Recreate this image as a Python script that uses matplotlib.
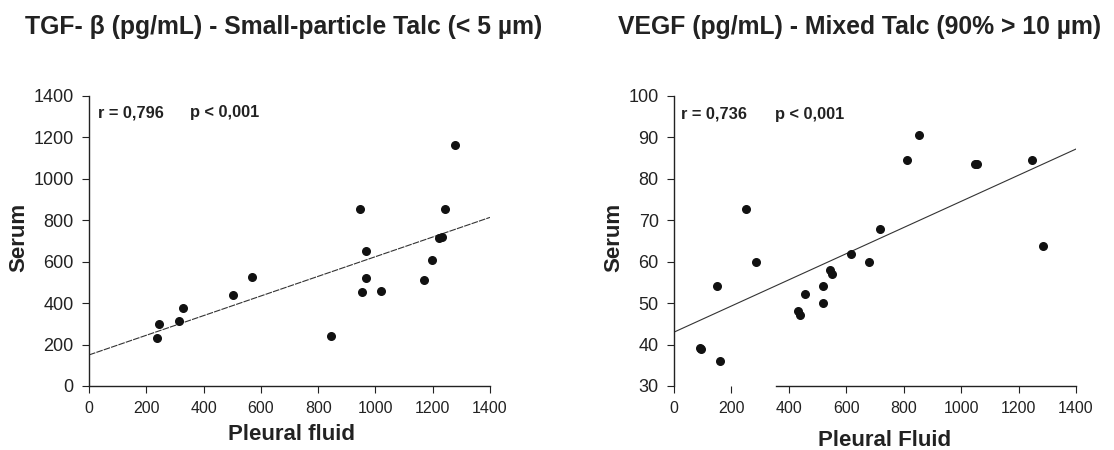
import matplotlib
matplotlib.use("Agg")
import matplotlib.pyplot as plt
import numpy as np

plt.rcParams['font.family'] = ['Liberation Sans', 'DejaVu Sans']

# ---- Data: TGF-beta (left) ----
tgf_pleural = [238, 245, 315, 328, 503, 568, 844, 945, 954, 967, 967, 1021, 1170, 1198, 1222, 1232, 1242, 1278]
tgf_serum = [233, 298, 315, 375, 439, 525, 243, 856, 452, 650, 521, 457, 512, 608, 716, 720, 854, 1163]
tgf_line_x = [0, 1400]
tgf_line_y = [150, 814]
tgf_title = "TGF- \u03b2 (pg/mL) - Small-particle Talc (< 5 \u00b5m)"

# ---- Data: VEGF (right) ----
vegf_pleural = [90, 94, 150, 159, 252, 287, 433, 440, 455, 520, 520, 543, 550, 615, 680, 717, 810, 854, 1049, 1054, 1247, 1284]
vegf_serum = [39.1, 38.9, 54.1, 36.0, 72.7, 59.9, 48.2, 47.1, 52.1, 54.1, 50.1, 58.0, 57.0, 61.9, 59.9, 67.9, 84.6, 90.5, 83.7, 83.7, 84.6, 63.9]
vegf_line_x = [0, 1400]
vegf_line_y = [43.0, 87.2]
vegf_title = "VEGF (pg/mL) - Mixed Talc (90% > 10 \u00b5m)"

x_ticks = [0, 200, 400, 600, 800, 1000, 1200, 1400]
tgf_yticks = [0, 200, 400, 600, 800, 1000, 1200, 1400]
vegf_yticks = [30, 40, 50, 60, 70, 80, 90, 100]

fig = plt.figure(figsize=(11.14, 4.5), dpi=100)
W, H = 1114, 450

def make_ax(left_px, right_px, top_px, bottom_px):
    return fig.add_axes([left_px / W, 1 - bottom_px / H,
                         (right_px - left_px) / W, (bottom_px - top_px) / H])

axL = make_ax(89, 490, 96, 386)
axR = make_ax(674, 1076, 96, 386)

def style(ax, yticks, ylim):
    ax.set_xlim(0, 1400)
    ax.set_ylim(*ylim)
    ax.set_xticks(x_ticks)
    ax.set_yticks(yticks)
    for s in ['top', 'right']:
        ax.spines[s].set_visible(False)
    for s in ['left', 'bottom']:
        ax.spines[s].set_linewidth(1.0)
        ax.spines[s].set_color('#222222')
    ax.tick_params(axis='both', direction='out', length=5, width=0.8, color='#222222')
    ax.tick_params(axis='x', labelsize=11.5, pad=6, labelcolor='#222222')
    ax.tick_params(axis='y', labelsize=13, pad=6, labelcolor='#222222')
    ax.patch.set_alpha(0)

style(axL, tgf_yticks, (0, 1400))
style(axR, vegf_yticks, (30, 100))
axR.spines['bottom'].set_bounds(355, 1400)

axL.plot(tgf_line_x, tgf_line_y, color='#333333', lw=0.8, linestyle=(0, (6, 1)))
axL.scatter(tgf_pleural, tgf_serum, s=30, color='#111111', zorder=3, clip_on=False)
axR.plot(vegf_line_x, vegf_line_y, color='#333333', lw=0.8)
axR.scatter(vegf_pleural, vegf_serum, s=30, color='#111111', zorder=3, clip_on=False)

stat_kw = dict(fontsize=11.8, fontweight='bold', va='center', ha='left', color='#222222')
fig.text(98 / W, 1 - 113 / H, "r = 0,796", **stat_kw)
fig.text(190 / W, 1 - 113 / H, "p < 0,001", **stat_kw)
fig.text(681 / W, 1 - 114 / H, "r = 0,736", **stat_kw)
fig.text(775 / W, 1 - 114 / H, "p < 0,001", **stat_kw)

lab_kw = dict(fontsize=16, fontweight='bold', ha='center', va='center', color='#222222')
fig.text(19 / W, 1 - 237 / H, "Serum", rotation=90, **lab_kw)
fig.text(614 / W, 1 - 237 / H, "Serum", rotation=90, **lab_kw)
fig.text(291 / W, 1 - 435 / H, "Pleural fluid", **lab_kw)
fig.text(885 / W, 1 - 440 / H, "Pleural Fluid", **lab_kw)

title_kw = dict(fontsize=17.8, fontweight='bold', ha='left', va='center', color='#222222')
fig.text(25 / W, 1 - 27 / H, tgf_title, **title_kw)
fig.text(618 / W, 1 - 27 / H, vegf_title, **title_kw)

fig.savefig("out.png", dpi=100, facecolor='white')
